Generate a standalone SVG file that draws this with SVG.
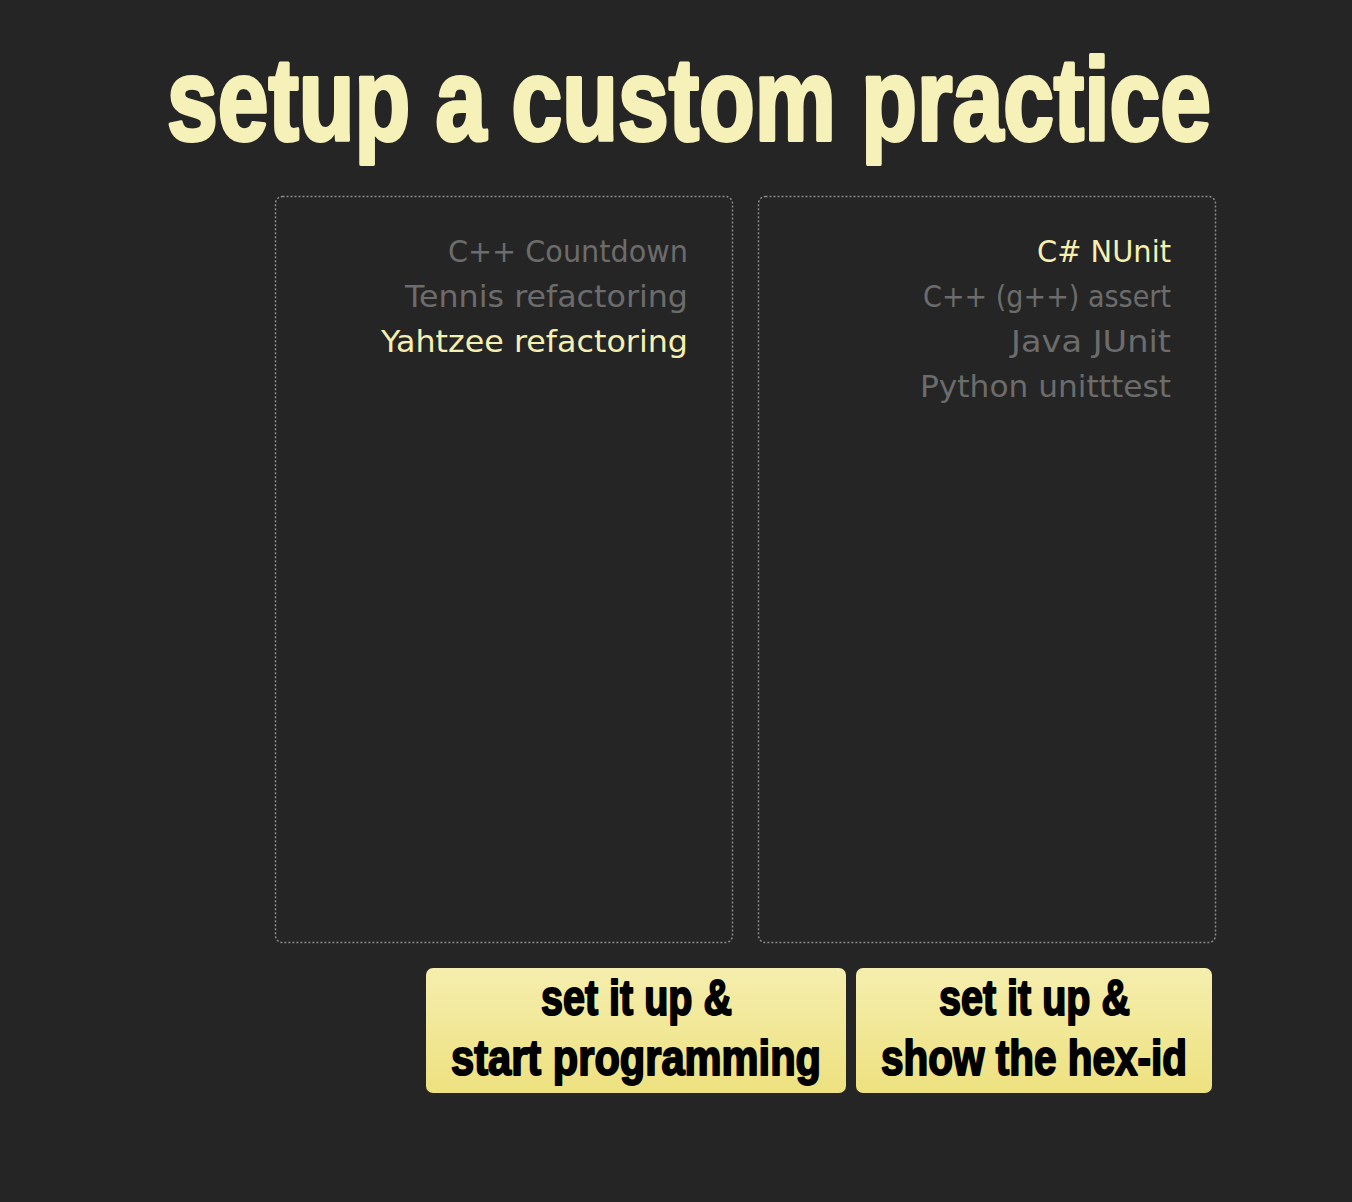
<svg xmlns="http://www.w3.org/2000/svg" width="1352" height="1202" viewBox="0 0 1352 1202">
<defs>
<linearGradient id="btnGrad" x1="0" y1="0" x2="0" y2="1">
<stop offset="0" stop-color="#f5eeae"/>
<stop offset="1" stop-color="#ede17f"/>
</linearGradient>
<style>
.title{font-family:"Liberation Sans","DejaVu Sans",sans-serif;font-weight:bold;font-size:116px;fill:#f6f1b8;stroke:#f6f1b8;stroke-width:4;stroke-linejoin:round;}
.panel{fill:none;stroke:#8a8a8a;stroke-width:1.5;stroke-dasharray:2 2;}
.item{font-family:"DejaVu Sans","DejaVu Sans Condensed",sans-serif;font-size:31px;fill:#6c6c6c;text-anchor:end;}
.sel{fill:#f5efb0;}
.btn{fill:url(#btnGrad);}
.btxt{font-family:"Liberation Sans","DejaVu Sans",sans-serif;font-weight:bold;font-size:50px;fill:#000;stroke:#000;stroke-width:2;stroke-linejoin:round;}
</style>
</defs>
<rect x="0" y="0" width="1352" height="1202" fill="#252525"/>
<g id="title">
<text class="title" x="167" y="140" textLength="1044" lengthAdjust="spacingAndGlyphs">setup a custom practice</text>
</g>
<g id="kata-panel">
<rect class="panel" x="275.5" y="196.5" width="457" height="746" rx="7"/>
<text class="item" x="688" y="262" textLength="240" lengthAdjust="spacingAndGlyphs">C++ Countdown</text>
<text class="item" x="688" y="307" textLength="283" lengthAdjust="spacingAndGlyphs">Tennis refactoring</text>
<text class="item sel" x="688" y="352" textLength="307" lengthAdjust="spacingAndGlyphs">Yahtzee refactoring</text>
</g>
<g id="language-panel">
<rect class="panel" x="758.5" y="196.5" width="457" height="746" rx="7"/>
<text class="item sel" x="1171" y="262" textLength="134" lengthAdjust="spacingAndGlyphs">C# NUnit</text>
<text class="item" x="1171" y="307" textLength="248" lengthAdjust="spacingAndGlyphs">C++ (g++) assert</text>
<text class="item" x="1171" y="352" textLength="160" lengthAdjust="spacingAndGlyphs">Java JUnit</text>
<text class="item" x="1171" y="397" textLength="251" lengthAdjust="spacingAndGlyphs">Python unitttest</text>
</g>
<g id="btn-start">
<rect class="btn" x="426" y="968" width="420" height="125" rx="7"/>
<text class="btxt" x="541" y="1015" textLength="191" lengthAdjust="spacingAndGlyphs">set it up &amp;</text>
<text class="btxt" x="451" y="1075" textLength="370" lengthAdjust="spacingAndGlyphs">start programming</text>
</g>
<g id="btn-hexid">
<rect class="btn" x="856" y="968" width="356" height="125" rx="7"/>
<text class="btxt" x="939" y="1015" textLength="191" lengthAdjust="spacingAndGlyphs">set it up &amp;</text>
<text class="btxt" x="881" y="1075" textLength="306" lengthAdjust="spacingAndGlyphs">show the hex-id</text>
</g>
<g id="connectors"></g>
</svg>
